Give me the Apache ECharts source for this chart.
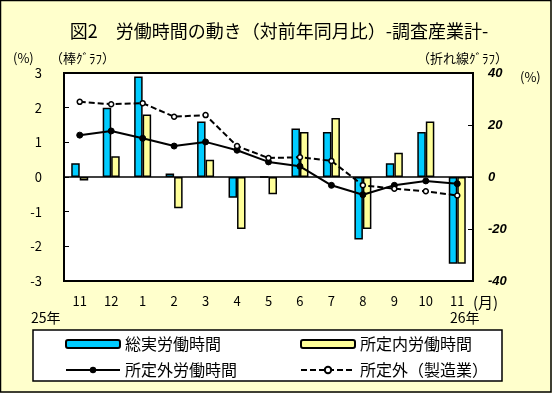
<!DOCTYPE html>
<html><head><meta charset="utf-8">
<script src="https://cdn.jsdelivr.net/npm/echarts@6/dist/echarts.min.js"></script>
<style>html,body{margin:0;padding:0;background:#FFFFCC;}#c{width:552px;height:393px;}</style>
</head><body><div id="c"></div>
<script>
var categories = ['11','12','1','2','3','4','5','6','7','8','9','10','11'];
var totalHours = [0.4, 2.0, 2.9, 0.1, 1.6, -0.6, 0, 1.4, 1.3, -1.8, 0.4, 1.3, -2.5];
var scheduledHours = [-0.1, 0.6, 1.8, -0.9, 0.5, -1.5, -0.5, 1.3, 1.7, -1.5, 0.7, 1.6, -2.5];
var overtimeHours = [16.1, 17.7, 14.9, 11.9, 13.5, 10.3, 5.8, 4.1, -3.2, -6.8, -3.2, -1.5, -2.6];
var overtimeMfg = [28.9, 28.0, 28.4, 23.2, 23.8, 11.9, 7.3, 7.6, 6.2, -3.2, -4.5, -5.5, -7.1];
var seriesNames = ['総実労働時間', '所定内労働時間', '所定外労働時間', '所定外（製造業）'];

var FONT = '"Noto Sans CJK JP", sans-serif';
var chart = echarts.init(document.getElementById('c'), null, {renderer: 'canvas'});
function legendAt(name, left, top) {
  return {
    data: [name], left: left, top: top, orient: 'horizontal',
    itemWidth: 54, itemHeight: 8, padding: 0, selectedMode: false,
    textStyle: {fontFamily: FONT, fontSize: 16, color: '#000'}
  };
}
var option = {
  backgroundColor: '#FFFFCC',
  animation: false,
  textStyle: {fontFamily: FONT},
  grid: {left: 64, right: 79, top: 73, bottom: 112, show: true, backgroundColor: '#fff', borderColor: '#000', borderWidth: 2},
  legend: [
    legendAt(seriesNames[0], 65, 336),
    legendAt(seriesNames[1], 300, 336),
    legendAt(seriesNames[2], 65, 362),
    legendAt(seriesNames[3], 300, 362)
  ],
  xAxis: {
    type: 'category', data: categories,
    axisLine: {show: false}, axisTick: {show: false},
    axisLabel: {margin: 14, fontSize: 13, color: '#000', fontFamily: FONT}
  },
  yAxis: [
    {type: 'value', min: -3, max: 3, interval: 1,
     axisLine: {show: false}, splitLine: {show: false},
     axisTick: {show: true, inside: true, length: 5, lineStyle: {color: '#000', width: 1}},
     axisLabel: {margin: 22, fontSize: 13, color: '#000', fontFamily: FONT}},
    {type: 'value', min: -40, max: 40, interval: 20, position: 'right',
     axisLine: {show: false}, splitLine: {show: false},
     axisTick: {show: true, inside: true, length: 5, lineStyle: {color: '#000', width: 1}},
     axisLabel: {margin: 15, fontSize: 13, color: '#000', fontStyle: 'italic', fontWeight: 'bold', fontFamily: '"Liberation Sans", sans-serif'}}
  ],
  series: [
    {name: seriesNames[0], type: 'bar', data: totalHours, barWidth: 8.5, barGap: '0%',
     itemStyle: {color: '#00CCFF', borderColor: '#000', borderWidth: 1.5},
     markLine: {silent: true, symbol: 'none', label: {show: false},
       lineStyle: {color: '#000', type: 'solid', width: 1.5}, data: [{yAxis: 0}]}},
    {name: seriesNames[1], type: 'bar', data: scheduledHours, barWidth: 8.5, barGap: '0%',
     itemStyle: {color: '#FFFF99', borderColor: '#000', borderWidth: 1.5}},
    {name: seriesNames[2], type: 'line', yAxisIndex: 1, data: overtimeHours,
     symbol: 'circle', symbolSize: 6, lineStyle: {color: '#000', width: 2},
     itemStyle: {color: '#000', borderColor: '#000'}},
    {name: seriesNames[3], type: 'line', yAxisIndex: 1, data: overtimeMfg,
     symbol: 'circle', symbolSize: 5, lineStyle: {color: '#000', width: 2, type: [6, 3]},
     itemStyle: {color: '#fff', borderColor: '#000', borderWidth: 1.5}}
  ],
  graphic: [
    {type: 'rect', z: -1, shape: {x: 0.5, y: 0.5, width: 550.5, height: 391.5}, style: {fill: 'none', stroke: '#000', lineWidth: 1.5}},
    {type: 'rect', z: 0, shape: {x: 33, y: 330, width: 469, height: 51}, style: {fill: '#fff', stroke: '#000', lineWidth: 1.5}},
    {type: 'text', style: {text: '図2　労働時間の動き（対前年同月比）-調査産業計-', x: 279, y: 31, fontSize: 18, fontFamily: FONT, fill: '#000', textAlign: 'center', textVerticalAlign: 'middle'}},
    {type: 'text', style: {text: '(%)', x: 13, y: 58, fontSize: 13, fontFamily: FONT, fill: '#000', textVerticalAlign: 'middle'}},
    {type: 'text', style: {text: '（棒ｸﾞﾗﾌ）', x: 50, y: 58, fontSize: 13, fontFamily: FONT, fill: '#000', textVerticalAlign: 'middle'}},
    {type: 'text', style: {text: '（折れ線ｸﾞﾗﾌ）', x: 417, y: 58, fontSize: 13, fontFamily: FONT, fill: '#000', textVerticalAlign: 'middle'}},
    {type: 'text', style: {text: '(%)', x: 520, y: 77, fontSize: 13, fontFamily: FONT, fill: '#000', textVerticalAlign: 'middle'}},
    {type: 'text', style: {text: '(月)', x: 473, y: 302, fontSize: 15, fontFamily: FONT, fill: '#000', textVerticalAlign: 'middle'}},
    {type: 'text', style: {text: '25年', x: 31, y: 318, fontSize: 14, fontFamily: FONT, fill: '#000', textVerticalAlign: 'middle'}},
    {type: 'text', style: {text: '26年', x: 450, y: 318, fontSize: 14, fontFamily: FONT, fill: '#000', textVerticalAlign: 'middle'}}
  ]
};
chart.setOption(option);
</script></body></html>
